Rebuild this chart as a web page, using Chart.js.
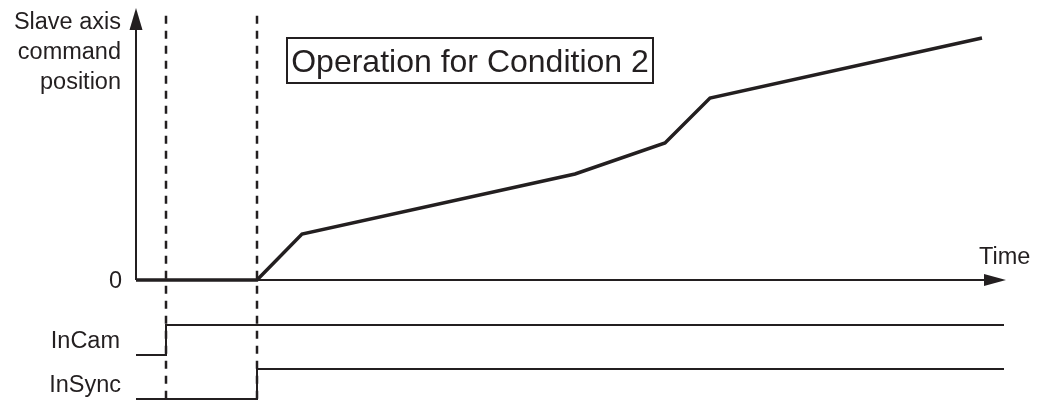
<!DOCTYPE html>
<html>
<head>
<meta charset="utf-8">
<script src="https://cdn.jsdelivr.net/npm/chart.js@4/dist/chart.umd.min.js"></script>
<style>
  html, body { margin: 0; padding: 0; background: #fff; }
  #wrap { width: 1038px; height: 400px; }
</style>
</head>
<body>
<div id="wrap"><canvas id="timing" width="1038" height="400"></canvas></div>
<script>
// ========== data ==========
const profileTimes = [0, 12.1, 16.6, 43.9, 52.9, 57.4, 84.6];
const profilePositions = [0, 0, 4.6, 10.6, 13.7, 18.2, 24.2];

const inCamTimes = [0, 3, 3, 86.8];
const inCamLevels = [0, 0, 1, 1];
const inSyncTimes = [0, 12.1, 12.1, 86.8];
const inSyncLevels = [0, 0, 1, 1];

const markerTimes = [3, 12.1];

const positionLabelLines = ['Slave axis', 'command', 'position'];
const signalNames = ['InCam', 'InSync'];
const zeroLabel = '0';
const timeLabel = 'Time';
const titleText = 'Operation for Condition 2';

const INK = '#231f20';
const FONT = '"Liberation Sans", Arial, Helvetica, sans-serif';

function toPoints(xs, ys) {
  return xs.map((x, i) => ({ x: x, y: ys[i] }));
}

// ========== axes, labels, title box ==========
const diagramDecor = {
  id: 'diagramDecor',
  beforeDatasetsDraw(chart) {
    const ctx = chart.ctx;
    const sx = chart.scales.x;
    const sy = chart.scales.y;
    const x0 = sx.getPixelForValue(0);
    const y0 = sy.getPixelForValue(0);
    const yTop = sy.getPixelForValue(sy.max);
    const xEnd = sx.getPixelForValue(sx.max);

    ctx.save();
    ctx.strokeStyle = INK;
    ctx.fillStyle = INK;
    ctx.lineWidth = 2;

    // vertical axis with arrow
    ctx.beginPath();
    ctx.moveTo(x0, y0);
    ctx.lineTo(x0, yTop + 18);
    ctx.stroke();
    ctx.beginPath();
    ctx.moveTo(x0, yTop);
    ctx.lineTo(x0 - 6.5, yTop + 22);
    ctx.lineTo(x0 + 6.5, yTop + 22);
    ctx.closePath();
    ctx.fill();

    // time axis with arrow
    ctx.beginPath();
    ctx.moveTo(x0, y0);
    ctx.lineTo(xEnd - 18, y0);
    ctx.stroke();
    ctx.beginPath();
    ctx.moveTo(xEnd, y0);
    ctx.lineTo(xEnd - 22, y0 - 6);
    ctx.lineTo(xEnd - 22, y0 + 6);
    ctx.closePath();
    ctx.fill();
    ctx.restore();
  },
  afterDraw(chart) {
    const ctx = chart.ctx;
    const sx = chart.scales.x;
    const sy = chart.scales.y;
    const labelRight = sx.getPixelForValue(0) - 15;

    ctx.save();
    ctx.fillStyle = INK;
    ctx.font = '23.5px ' + FONT;
    ctx.textAlign = 'right';
    ctx.textBaseline = 'alphabetic';

    positionLabelLines.forEach((line, i) => {
      ctx.fillText(line, labelRight, 29 + i * 30);
    });
    ctx.fillText(zeroLabel, labelRight + 1, sy.getPixelForValue(0) + 8);

    ctx.fillText(signalNames[0], labelRight - 1, chart.scales.yCam.getPixelForValue(0.5) + 8);
    ctx.fillText(signalNames[1], labelRight, chart.scales.ySync.getPixelForValue(0.5) + 8);

    ctx.textAlign = 'left';
    ctx.fillText(timeLabel, 979, 264);

    // boxed caption
    ctx.strokeStyle = INK;
    ctx.lineWidth = 2;
    ctx.strokeRect(287, 38, 366, 45);
    ctx.font = '32px ' + FONT;
    ctx.textAlign = 'center';
    ctx.fillText(titleText, 470, 72);
    ctx.restore();
  }
};

// ========== chart ==========
const markerSets = markerTimes.map(t => ({
  data: [{ x: t, y: 0.98 }, { x: t, y: 0 }],
  yAxisID: 'yFull',
  borderColor: INK,
  borderWidth: 2.5,
  borderDash: [8, 7],
  pointRadius: 0,
  clip: false
}));

new Chart(document.getElementById('timing'), {
  type: 'line',
  data: {
    datasets: [
      ...markerSets,
      {
        data: toPoints(inCamTimes, inCamLevels),
        yAxisID: 'yCam',
        borderColor: INK,
        borderWidth: 2,
        pointRadius: 0,
        clip: false
      },
      {
        data: toPoints(inSyncTimes, inSyncLevels),
        yAxisID: 'ySync',
        borderColor: INK,
        borderWidth: 2,
        pointRadius: 0,
        clip: false
      },
      {
        data: toPoints(profileTimes, profilePositions),
        yAxisID: 'y',
        borderColor: INK,
        borderWidth: 3.5,
        pointRadius: 0,
        clip: false
      }
    ]
  },
  options: {
    responsive: false,
    animation: false,
    devicePixelRatio: 1,
    layout: { padding: { left: 136, right: 32, top: 8, bottom: 0 } },
    plugins: {
      legend: { display: false },
      tooltip: { enabled: false }
    },
    scales: {
      x: { type: 'linear', min: 0, max: 87, display: false },
      y: { type: 'linear', min: -12, max: 27.2, display: false },
      yCam: { type: 'linear', min: -1.5, max: 11.567, display: false },
      ySync: { type: 'linear', min: -0.033, max: 13.033, display: false },
      yFull: { type: 'linear', min: 0, max: 1, display: false }
    }
  },
  plugins: [diagramDecor]
});
</script>
</body>
</html>
